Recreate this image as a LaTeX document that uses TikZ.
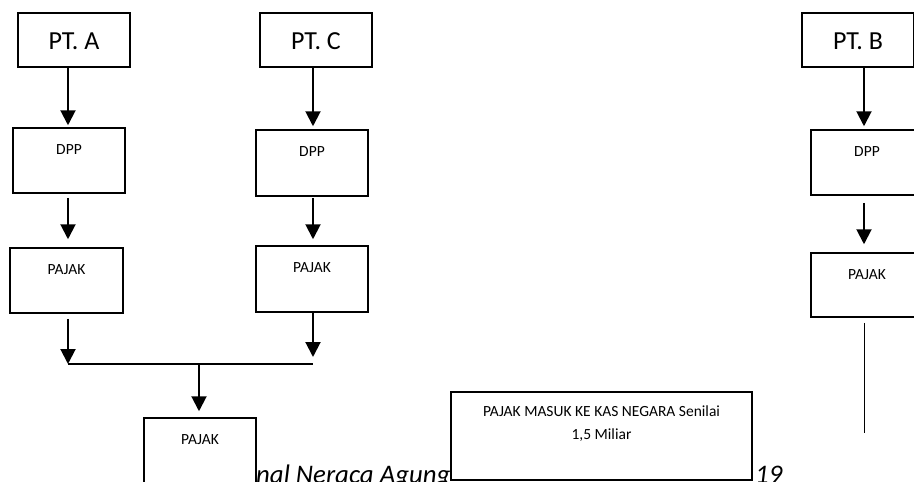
\documentclass[tikz,border=0pt]{standalone}
\usepackage{fontspec}
\setmainfont{Carlito}
\usetikzlibrary{arrows.meta}
\tikzset{
  boxnode/.style={draw=black, line width=1.5pt, fill=white, rectangle, inner sep=0pt},
  bigtxt/.style={font=\fontsize{26}{30}\selectfont, inner sep=0pt},
  smalltxt/.style={font=\fontsize{15.5}{23}\selectfont, inner sep=0pt, align=center},
  foottxt/.style={font=\itshape\fontsize{26.8}{32}\selectfont, inner sep=0pt},
  arr/.style={line width=2pt, -{Triangle[width=15pt,length=15pt]}},
  thinline/.style={line width=1.2pt}
}
\begin{document}
\begin{tikzpicture}[x=1pt,y=-1pt]
\useasboundingbox (0,0) rectangle (914,482);
\clip (0,0) rectangle (914,482);
% footer text (partly hidden by boxes)
\node[foottxt, anchor=base west] (foot1) at (256,483.5) {nal Neraca Agung};
\node[foottxt, anchor=base west] (foot2) at (755,483.5) {19};
% top boxes
\node[boxnode, minimum width=112pt, minimum height=54pt] (ptA) at (74,40) {};
\node[bigtxt] (ptAt) at (74,41) {PT. A};
\node[boxnode, minimum width=112pt, minimum height=54pt] (ptC) at (316,40) {};
\node[bigtxt] (ptCt) at (316,41) {PT. C};
\node[boxnode, minimum width=112pt, minimum height=54pt] (ptB) at (858,40) {};
\node[bigtxt] (ptBt) at (858,41) {PT. B};
% DPP boxes
\node[boxnode, minimum width=112pt, minimum height=65pt] (dppA) at (69,160.5) {};
\node[smalltxt] (dppAt) at (69,150) {DPP};
\node[boxnode, minimum width=112pt, minimum height=66pt] (dppC) at (312,163) {};
\node[smalltxt] (dppCt) at (312,152) {DPP};
\node[boxnode, minimum width=112pt, minimum height=65pt] (dppB) at (867,162.5) {};
\node[smalltxt] (dppBt) at (867,152) {DPP};
% PAJAK boxes
\node[boxnode, minimum width=113pt, minimum height=65pt] (pajA) at (66.5,280.5) {};
\node[smalltxt] (pajAt) at (66.5,270) {PAJAK};
\node[boxnode, minimum width=112pt, minimum height=66pt] (pajC) at (312,279) {};
\node[smalltxt] (pajCt) at (312,268) {PAJAK};
\node[boxnode, minimum width=112pt, minimum height=64pt] (pajB) at (867,285) {};
\node[smalltxt] (pajBt) at (867,275) {PAJAK};
\node[boxnode, minimum width=112pt, minimum height=84pt] (pajD) at (200,460) {};
\node[smalltxt] (pajDt) at (200,440) {PAJAK};
% final box
\node[boxnode, line width=1.3pt, minimum width=301pt, minimum height=88pt] (kas) at (601.5,436) {};
\node[smalltxt] (kast) at (601.5,424) {PAJAK MASUK KE KAS NEGARA Senilai\\1,5 Miliar};
% column coordinates
\coordinate (xA) at (68,0);
\coordinate (xC) at (313,0);
\coordinate (xB) at (864,0);
\coordinate (jL) at (68,364);
\coordinate (jR) at (313,364);
\coordinate (jM) at (199,364);
\coordinate (bEnd) at (864,433);
% arrows column A
\draw[arr, shorten >=2pt] (ptA.south -| xA) -- (dppA.north -| xA);
\draw[arr, shorten <=4pt, shorten >=8pt] (dppA.south -| xA) -- (pajA.north -| xA);
\draw[arr, shorten <=5pt] (pajA.south -| xA) -- (jL);
% arrows column C
\draw[arr, shorten >=3pt] (ptC.south -| xC) -- (dppC.north -| xC);
\draw[arr, shorten <=1pt, shorten >=6pt] (dppC.south -| xC) -- (pajC.north -| xC);
\draw[arr, shorten >=7pt] (pajC.south -| xC) -- (jR);
% join
\draw[thinline] (jL) -- (jR);
\draw[arr, shorten >=6pt] (jM) -- (pajD.north -| jM);
% column B
\draw[arr, shorten >=3pt] (ptB.south -| xB) -- (dppB.north -| xB);
\draw[arr, shorten <=7pt, shorten >=8pt] (dppB.south -| xB) -- (pajB.north -| xB);
\draw[line width=1pt, shorten <=5pt] (pajB.south -| xB) -- (bEnd);
\end{tikzpicture}
\end{document}
